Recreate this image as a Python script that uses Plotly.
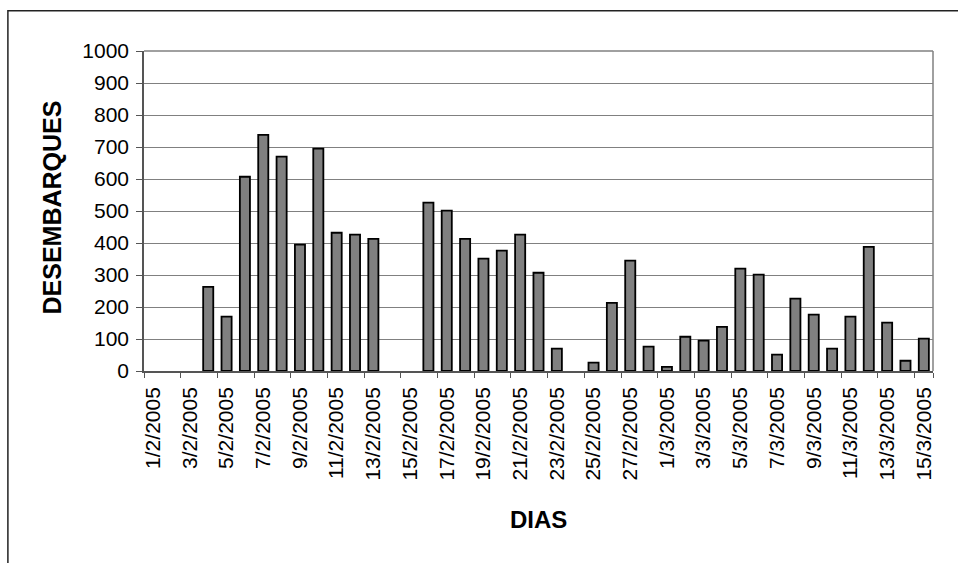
import plotly.graph_objects as go

# Daily dates, 1 Feb 2005 to 15 Mar 2005
dias = [f"{d}/2/2005" for d in range(1, 29)] + [f"{d}/3/2005" for d in range(1, 16)]

# Landings per day (None where nothing was recorded)
desembarques = [
    None, None, None, 263, 170, 607, 738, 670, 395, 695, 432, 426, 413, None,
    None, 526, 501, 413, 351, 376, 426, 307, 70, None, 26, 213, 345, 76,
    13, 107, 95, 138, 320, 301, 51, 226, 176, 70, 170, 388, 151, 32, 101,
]

# Every second date is labelled
tick_dias = dias[::2]

y_ticks = list(range(0, 1001, 100))

FONT = "Liberation Sans, Arial, sans-serif"

fig = go.Figure(
    go.Bar(
        x=dias,
        y=desembarques,
        marker=dict(color="#808080", line=dict(color="#000000", width=1.8)),
        hoverinfo="x+y",
    )
)

fig.update_layout(
    width=958,
    height=563,
    margin=dict(l=144, r=25, t=51, b=192),
    paper_bgcolor="white",
    plot_bgcolor="white",
    bargap=0.45,
    showlegend=False,
    font=dict(family=FONT, color="#000000"),
    xaxis=dict(
        type="category",
        categoryorder="array",
        categoryarray=dias,
        tickmode="array",
        tickvals=tick_dias,
        ticktext=tick_dias,
        tickson="boundaries",
        ticks="outside",
        ticklen=5,
        tickwidth=1,
        tickcolor="#555555",
        tickangle=-90,
        ticklabelstandoff=6,
        tickfont=dict(family=FONT, size=21, color="#000000"),
        showgrid=False,
        showline=True,
        linecolor="#555555",
        linewidth=1.5,
        mirror=False,
        zeroline=False,
    ),
    yaxis=dict(
        range=[0, 1000],
        tickmode="array",
        tickvals=y_ticks,
        ticks="outside",
        ticklen=6,
        tickwidth=1,
        tickcolor="#555555",
        ticklabelstandoff=3,
        tickfont=dict(family=FONT, size=21, color="#000000"),
        showgrid=True,
        gridcolor="#808080",
        gridwidth=1.3,
        showline=True,
        linecolor="#555555",
        linewidth=1.5,
        zeroline=False,
    ),
    shapes=[
        # right and top edges of the plotting area
        dict(type="line", xref="paper", yref="paper", x0=1, x1=1, y0=0, y1=1,
             line=dict(color="#808080", width=1.5)),
        dict(type="line", xref="paper", yref="paper", x0=0, x1=1, y0=1, y1=1,
             line=dict(color="#808080", width=1.5)),
        # outer chart frame
        dict(type="rect", xref="paper", yref="paper",
             x0=-0.1725, x1=1.1, y0=-0.75, y1=1.126,
             line=dict(color="#222222", width=1.5)),
    ],
    annotations=[
        dict(text="<b>DESEMBARQUES</b>", xref="paper", yref="paper",
             x=(51 - 144) / 789, y=(371 - 207.5) / 320,
             xanchor="center", yanchor="middle", textangle=-90, showarrow=False,
             font=dict(family=FONT, size=25, color="#000000")),
        dict(text="<b>DIAS</b>", xref="paper", yref="paper",
             x=0.5, y=(371 - 519) / 320,
             xanchor="center", yanchor="middle", showarrow=False,
             font=dict(family=FONT, size=24, color="#000000")),
    ],
)

fig.write_html("out.html")
